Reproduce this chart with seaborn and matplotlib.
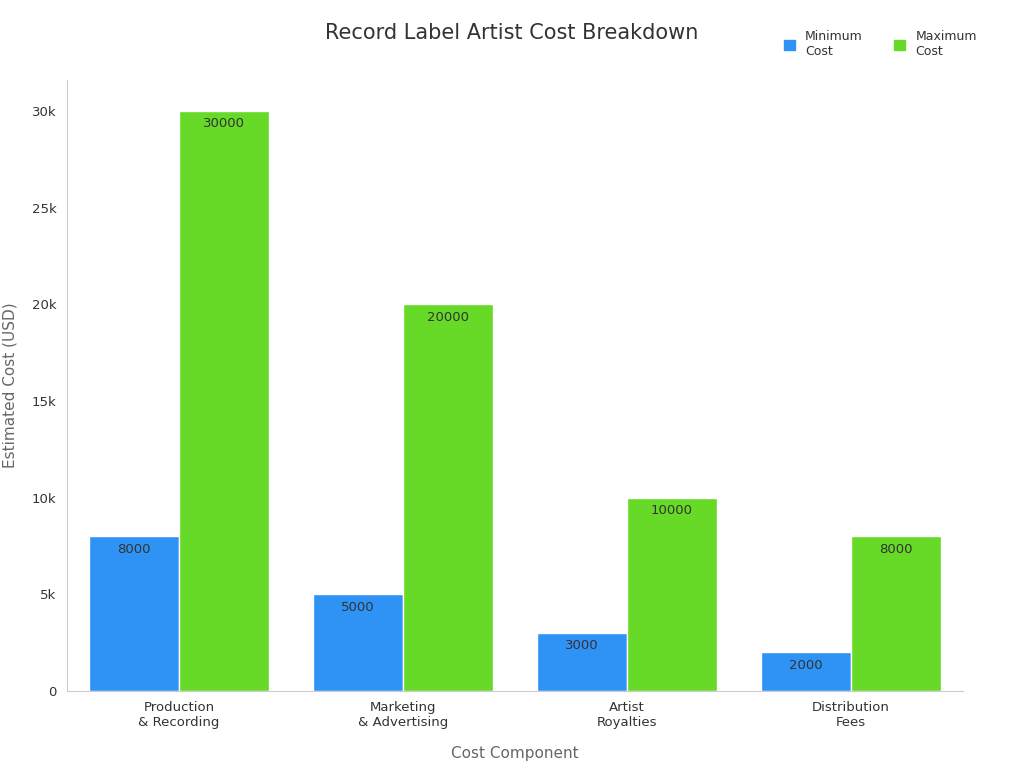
import matplotlib
matplotlib.use("Agg")
import matplotlib.pyplot as plt
import seaborn as sns
import pandas as pd

# --- data ---
categories = ["Production\n& Recording", "Marketing\n& Advertising", "Artist\nRoyalties", "Distribution\nFees"]
min_cost = [8000, 5000, 3000, 2000]
max_cost = [30000, 20000, 10000, 8000]
series_names = ["Minimum\nCost", "Maximum\nCost"]

df = pd.DataFrame({
    "Component": categories * 2,
    "Cost": min_cost + max_cost,
    "Series": [series_names[0]] * 4 + [series_names[1]] * 4,
})

sns.set_style("white")
fig = plt.figure(figsize=(10.24, 7.68), dpi=100)
ax = fig.add_axes([67 / 1024, 1 - 691 / 768, (963 - 67) / 1024, (691 - 80) / 768])

sns.barplot(data=df, x="Component", y="Cost", hue="Series", palette=["#2E93F5", "#66DA26"],
            width=0.8, edgecolor="white", linewidth=1, saturation=1, ax=ax, legend=False)

for cont in ax.containers:
    ax.bar_label(cont, labels=[f"{int(v)}" for v in cont.datavalues], padding=-14,
                 fontsize=9.5, color="#333333")

ax.set_xlim(-0.5, 3.5)
ax.set_ylim(0, 31600)
ax.set_yticks([0, 5000, 10000, 15000, 20000, 25000, 30000])
ax.set_yticklabels(["0", "5k", "10k", "15k", "20k", "25k", "30k"])
ax.tick_params(axis="both", labelsize=9.5, colors="#333333", length=4)
ax.tick_params(axis="both", color="#999999")
ax.set_xlabel("Cost Component", fontsize=11, color="#666666", labelpad=12)
ax.set_ylabel("Estimated Cost (USD)", fontsize=11, color="#666666", labelpad=10)
sns.despine(ax=ax)
for s in ["left", "bottom"]:
    ax.spines[s].set_color("#cccccc")

fig.suptitle("Record Label Artist Cost Breakdown", x=0.5, y=0.97, fontsize=15, color="#333333")

from matplotlib.patches import Patch
handles = [Patch(color="#2E93F5"), Patch(color="#66DA26")]
fig.legend(handles, series_names, loc="upper right", bbox_to_anchor=(0.965, 0.975), ncol=2,
           frameon=False, fontsize=9, handlelength=0.9, handleheight=0.9, columnspacing=2.5,
           labelcolor="#333333")

fig.savefig("out.png", dpi=100)
